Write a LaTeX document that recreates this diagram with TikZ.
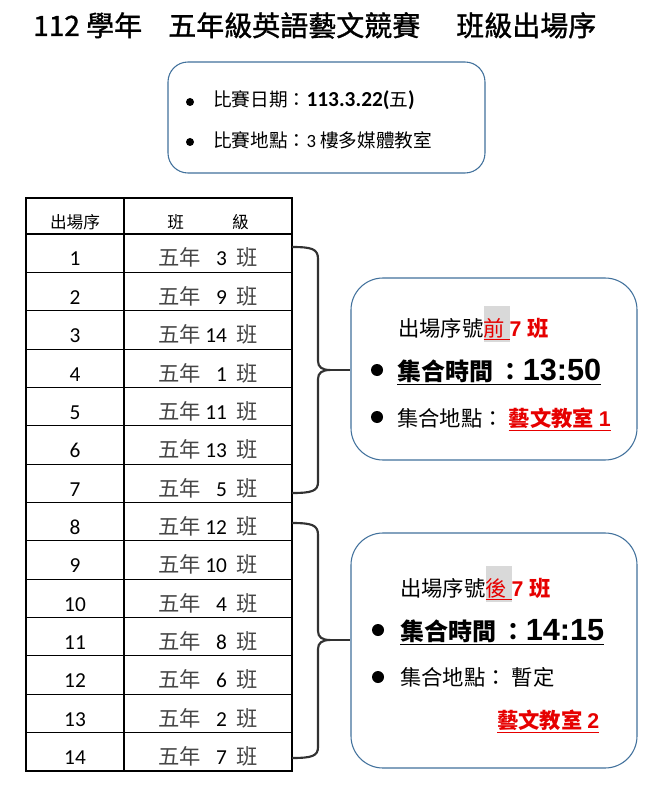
\documentclass[tikz,border=0pt]{standalone}
\usepackage{fontspec}
\setmainfont{Carlito}
\newfontfamily\zh{Noto Sans CJK TC}
\newfontfamily\zhttl[FakeBold=1.2]{Noto Sans CJK TC}
\newfontfamily\carl{Carlito}
\newfontfamily\ari{Liberation Sans}
\definecolor{rd}{RGB}{230,0,0}
\definecolor{hl}{RGB}{217,217,217}
\definecolor{bx}{RGB}{65,113,156}
\definecolor{br}{RGB}{50,50,50}
\definecolor{tgray}{RGB}{70,70,70}
\newcommand\fs[1]{\fontsize{#1}{#1}\selectfont}
\newcommand\hlbox[1]{{\setlength\fboxsep{0pt}\colorbox{hl}{\rule[-4.5pt]{0pt}{27pt}#1}}}
\begin{document}
\begin{tikzpicture}[x=0.75pt,y=-0.75pt,
  tbox/.style={draw=bx,line width=0.8pt,rounded corners=15pt,inner sep=0pt,fill=white},
  rbox/.style={draw=bx,line width=0.8pt,rounded corners=24pt,inner sep=0pt,fill=white},
  brace/.style={draw=br,line width=1.6pt},
  grid/.style={draw=black,line width=0.8pt},
  txt/.style={anchor=base west,inner sep=0pt},
  cell/.style={anchor=base,inner sep=0pt},
  dot/.style={circle,fill=black,inner sep=0pt,minimum size=9pt}]
\fill[white] (0,0) rectangle (647,787);
\useasboundingbox (0,0) rectangle (647,787);

% title
\node[txt] (ttl1) at (33,36) {\fs{21}\zhttl 112 學年};
\node[txt] (ttl2) at (168,36) {\fs{21}\zhttl 五年級英語藝文競賽};
\node[txt] (ttl3) at (456,36) {\fs{21}\zhttl 班級出場序};

% info box
\node[tbox,minimum width=317*0.75pt,minimum height=111*0.75pt] (info) at (326.5,117.5) {};
\node[dot,minimum size=6pt] (d1) at (190,102) {};
\node[txt] (i1) at (213,107) {\fs{14}\zh 比賽日期：{\carl\bfseries\fs{16}113.3.22(}五{\carl\bfseries\fs{16})}};
\node[dot,minimum size=6pt] (d2) at (190,142) {};
\node[txt] (i2) at (213,148) {\fs{14}\zh 比賽地點：{\carl 3} 樓多媒體教室};

% table
\draw[grid] (26,198) rectangle (292,771);
\draw[grid] (124,198) -- (124,771);
\foreach \k in {0,...,13} \draw[grid] (26,{234+\k*38.357}) -- (292,{234+\k*38.357});
\node[cell] (h1) at (75,229) {\fs{12.5}\zh 出場序};
\node[cell] (h2) at (208,229) {\fs{12.5}\zh 班\hspace{36pt}級};
\foreach \i/\cl in {1/3,2/9,3/14,4/1,5/11,6/13,7/5,8/12,9/10,10/4,11/8,12/6,13/2,14/7} {
  \node[cell] (n\i) at (75,{234+(\i-1)*38.357+32}) {\fs{16}\carl \i};
  \node[txt] (c\i) at (158,{234+(\i-1)*38.357+32}) {\fs{16}{\zh\color{tgray}五年}\makebox[19.5pt][r]{\carl \cl}\hspace{7pt}{\zh\color{tgray}班}};
}

% right boxes
\node[rbox,minimum width=286*0.75pt,minimum height=182*0.75pt] (box1) at (494,369) {};
\node[rbox,minimum width=286*0.75pt,minimum height=235*0.75pt] (box2) at (494,650.5) {};

% braces
\coordinate (tip1) at (330,370);
\draw[brace] (292,247) .. controls (312,247) and (318,249) .. (318,259) -- (318,361) .. controls (318,367) and (322,370) .. (tip1) .. controls (322,370) and (318,373) .. (318,379) -- (318,482) .. controls (318,491) and (312,493) .. (292,493);
\draw[brace] (tip1) -- (tip1 -| box1.west);
\coordinate (tip2) at (330,640);
\draw[brace] (292,523) .. controls (312,523) and (318,525) .. (318,535) -- (318,631) .. controls (318,637) and (322,640) .. (tip2) .. controls (322,640) and (318,643) .. (318,649) -- (318,747) .. controls (318,756) and (312,758) .. (292,758);
\draw[brace] (tip2) -- (tip2 -| box2.west);

% box 1 text
\node[txt] (p1) at (398,336) {\fs{16}\zh 出場序號\hlbox{\color{rd}\underline{前\ }}{\ari\bfseries\color{rd}7 }{\zh\bfseries\color{rd}班}};
\node[dot] (b1) at (377,370) {};
\node[txt] (t1) at (397,380) {\underline{\fs{18}\zh\bfseries 集合時間 ：{\ari\fs{23}13:50}}};
\node[dot] (b2) at (377,417) {};
\node[txt] (u1) at (397,426) {\fs{16}\zh 集合地點：\ {\color{rd}\bfseries\underline{藝文教室 {\ari 1}}}};

% box 2 text
\node[txt] (p2) at (400,596) {\fs{16}\zh 出場序號\hlbox{\color{rd}\underline{後\ }}{\ari\bfseries\color{rd}7 }{\zh\bfseries\color{rd}班}};
\node[dot] (b3) at (378,630) {};
\node[txt] (t2) at (400,640) {\underline{\fs{18}\zh\bfseries 集合時間 ：{\ari\fs{23}14:15}}};
\node[dot] (b4) at (378,677) {};
\node[txt] (u2) at (400,685) {\fs{16}\zh 集合地點：\ 暫定};
\node[txt] (v2) at (497,728) {\fs{16}\zh\bfseries\color{rd}\underline{藝文教室 {\ari 2}}};
\end{tikzpicture}
\end{document}
